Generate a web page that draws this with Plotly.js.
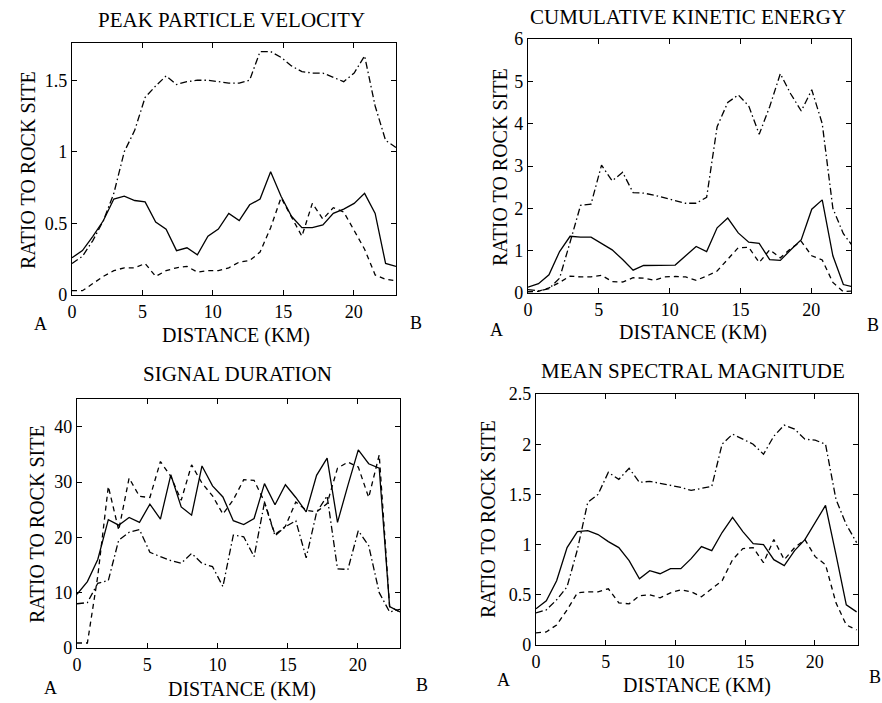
<!DOCTYPE html>
<html>
<head>
<meta charset="utf-8">
<script src="https://cdn.plot.ly/plotly-3.0.1.min.js"></script>
<style>html,body{margin:0;padding:0;background:#fff;}#chart{width:882px;height:703px;}</style>
</head>
<body>
<div id="chart"></div>
<script>
// Station distances along profile A-B (km)
const DIST = [0,0.74,1.48,2.23,2.97,3.71,4.45,5.19,5.94,6.68,7.42,8.16,8.9,9.65,10.39,11.13,11.87,12.61,13.35,14.1,14.84,15.58,16.32,17.06,17.81,18.55,19.29,20.03,20.77,21.52,22.26,23];

// Peak particle velocity
const PPV_SOLID   = [0.26,0.31,0.41,0.52,0.67,0.69,0.66,0.65,0.51,0.46,0.31,0.33,0.28,0.41,0.46,0.57,0.52,0.63,0.67,0.86,0.69,0.55,0.47,0.47,0.49,0.57,0.60,0.64,0.71,0.57,0.22,0.20];
const PPV_DASH    = [0.03,0.03,0.08,0.13,0.17,0.19,0.19,0.22,0.13,0.17,0.19,0.20,0.16,0.17,0.17,0.19,0.23,0.24,0.30,0.47,0.68,0.55,0.41,0.64,0.53,0.61,0.58,0.45,0.32,0.14,0.11,0.10];
const PPV_DASHDOT = [0.22,0.27,0.38,0.52,0.71,1.00,1.15,1.38,1.46,1.53,1.47,1.49,1.50,1.50,1.49,1.48,1.48,1.50,1.70,1.70,1.66,1.60,1.56,1.55,1.55,1.52,1.49,1.55,1.67,1.32,1.08,1.03];

// Cumulative kinetic energy
const CKE_SOLID   = [0.14,0.22,0.43,0.98,1.34,1.32,1.32,1.18,1.02,0.79,0.54,0.65,0.65,0.65,0.66,0.88,1.10,0.98,1.54,1.77,1.42,1.20,1.17,0.79,0.77,1.02,1.26,1.98,2.20,0.88,0.20,0.14];
const CKE_DASH    = [0.03,0.04,0.12,0.25,0.40,0.38,0.38,0.42,0.27,0.26,0.36,0.35,0.30,0.38,0.39,0.38,0.30,0.40,0.52,0.80,1.07,1.08,0.72,1.02,0.83,1.05,1.22,0.88,0.78,0.25,0.03,0.05];
const CKE_DASHDOT = [0.08,0.05,0.10,0.35,1.20,2.07,2.10,3.02,2.65,2.85,2.37,2.36,2.31,2.25,2.18,2.12,2.12,2.26,3.93,4.50,4.68,4.42,3.75,4.40,5.18,4.70,4.30,4.80,4.00,2.00,1.40,1.07];

// Signal duration
const SD_SOLID    = [9.7,12.0,16.0,23.2,22.2,23.6,22.7,26.0,23.3,31.3,25.5,24.0,32.9,29.3,27.3,23.0,22.3,23.4,29.7,25.9,29.5,27.2,24.6,31.2,34.3,22.7,29.4,35.8,33.3,32.5,7.5,6.5];
const SD_DASH     = [0.9,0.9,13.0,29.2,21.3,30.7,27.4,27.2,33.7,31.0,26.7,33.1,29.8,27.5,24.2,26.8,30.4,30.3,26.4,20.5,22.0,26.4,24.9,24.6,26.1,32.5,33.6,32.7,27.2,34.9,7.5,6.5];
const SD_DASHDOT  = [8.0,8.2,11.7,12.2,19.5,20.9,21.4,17.3,16.5,15.8,15.3,17.1,15.3,14.7,11.1,20.4,20.1,16.5,26.3,20.3,21.9,23.0,16.3,24.5,27.5,14.3,14.2,21.2,18.5,10.0,6.5,7.0];

// Mean spectral magnitude
const MSM_SOLID   = [0.36,0.44,0.64,0.97,1.13,1.14,1.10,1.03,0.97,0.84,0.66,0.74,0.71,0.76,0.76,0.86,0.98,0.94,1.12,1.27,1.13,1.01,1.00,0.85,0.79,0.94,1.05,1.22,1.39,0.90,0.40,0.33];
const MSM_DASH    = [0.12,0.13,0.20,0.35,0.52,0.53,0.53,0.56,0.42,0.41,0.49,0.50,0.47,0.52,0.55,0.53,0.48,0.56,0.64,0.85,0.96,0.97,0.82,1.05,0.85,0.97,1.05,0.88,0.80,0.42,0.20,0.15];
const MSM_DASHDOT = [0.32,0.35,0.45,0.58,0.95,1.42,1.50,1.72,1.65,1.76,1.62,1.63,1.61,1.59,1.57,1.54,1.56,1.58,2.00,2.10,2.05,2.00,1.90,2.08,2.19,2.15,2.05,2.04,2.00,1.45,1.20,1.02];

const TITLES = ["PEAK PARTICLE VELOCITY","CUMULATIVE KINETIC ENERGY","SIGNAL DURATION","MEAN SPECTRAL MAGNITUDE"];
const Y_TITLE = "RATIO TO ROCK SITE";
const X_TITLE = "DISTANCE (KM)";
const END_LABELS = ["A","B"];
const X_TICKS = [0,5,10,15,20];
const Y_TICKS = [[0,0.5,1,1.5],[0,1,2,3,4,5,6],[0,10,20,30,40],[0,0.5,1,1.5,2,2.5]];
const Y_TICKTEXT = [["0","0.5","1","1.5"],["0","1","2","3","4","5","6"],["0","10","20","30","40"],["0","0.5","1","1.5","2","2.5"]];

const W = 882, H = 703;
const FONT = "Liberation Serif";
// plot boxes in pixels [left, right, top, bottom]
const BOX = [[72,396,43,295],[528,851,39,293],[77,400,399,648],[536,858,394,645]];
const XR = [[0,23],[0,22.8],[0,23],[0,23.1]];
const YR = [[0,1.76],[0,6],[0,45],[0,2.5]];

const SERIES = [
  [PPV_SOLID,PPV_DASH,PPV_DASHDOT],
  [CKE_SOLID,CKE_DASH,CKE_DASHDOT],
  [SD_SOLID,SD_DASH,SD_DASHDOT],
  [MSM_SOLID,MSM_DASH,MSM_DASHDOT]
];
const DASHES = ["solid","5px,4px","7px,3px,1.5px,3px"];

const data = [];
SERIES.forEach((set,i)=>{
  const sfx = i===0 ? "" : String(i+1);
  set.forEach((ys,j)=>{
    data.push({x:DIST, y:ys, type:"scatter", mode:"lines", xaxis:"x"+sfx, yaxis:"y"+sfx,
      line:{color:"#000", width:1.3, dash:DASHES[j]}, hoverinfo:"skip", showlegend:false});
  });
});

const layout = {width:W, height:H, margin:{l:0,r:0,t:0,b:0}, paper_bgcolor:"#fff", plot_bgcolor:"#fff",
  showlegend:false, font:{family:FONT, color:"#000"}, annotations:[]};

const px = v => v/W, py = v => 1 - v/H;
BOX.forEach((b,i)=>{
  const sfx = i===0 ? "" : String(i+1);
  const common = {showline:true, mirror:"ticks", linecolor:"#000", linewidth:1.2, ticks:"inside", ticklen:5,
    tickwidth:1, tickcolor:"#000", showgrid:false, zeroline:false, tickfont:{family:FONT,size:18,color:"#000"}, fixedrange:true};
  layout["xaxis"+sfx] = Object.assign({}, common, {domain:[px(b[0]),px(b[1])], range:XR[i], anchor:"y"+sfx,
    tickmode:"array", tickvals:X_TICKS, ticktext:X_TICKS.map(String)});
  layout["yaxis"+sfx] = Object.assign({}, common, {domain:[py(b[3]),py(b[2])], range:YR[i], anchor:"x"+sfx,
    tickmode:"array", tickvals:Y_TICKS[i], ticktext:Y_TICKTEXT[i]});
});

// text positions (px)
const TXT = [
  {title:[232,20], yt:[28,170], xt:[236,335], a:[40,324], b:[416,323]},
  {title:[688,17], yt:[500,167], xt:[693,332], a:[496,330], b:[873,325]},
  {title:[237,374], yt:[37,524], xt:[242,689], a:[50,688], b:[422,685]},
  {title:[693,371], yt:[488,519], xt:[697,685], a:[503,680], b:[875,677]}
];
function ann(text,x,y,size,angle){
  return {text:text, x:px(x), y:py(y), xref:"paper", yref:"paper", xanchor:"center", yanchor:"middle",
    showarrow:false, textangle:angle||0, font:{family:FONT,size:size,color:"#000"}};
}
TXT.forEach((t,i)=>{
  layout.annotations.push(ann(TITLES[i], t.title[0], t.title[1], 21));
  layout.annotations.push(ann(Y_TITLE, t.yt[0], t.yt[1], 20, -90));
  layout.annotations.push(ann(X_TITLE, t.xt[0], t.xt[1], 20));
  layout.annotations.push(ann(END_LABELS[0], t.a[0], t.a[1], 18));
  layout.annotations.push(ann(END_LABELS[1], t.b[0], t.b[1], 18));
});

Plotly.newPlot("chart", data, layout, {staticPlot:true, displayModeBar:false});
</script>
</body>
</html>
